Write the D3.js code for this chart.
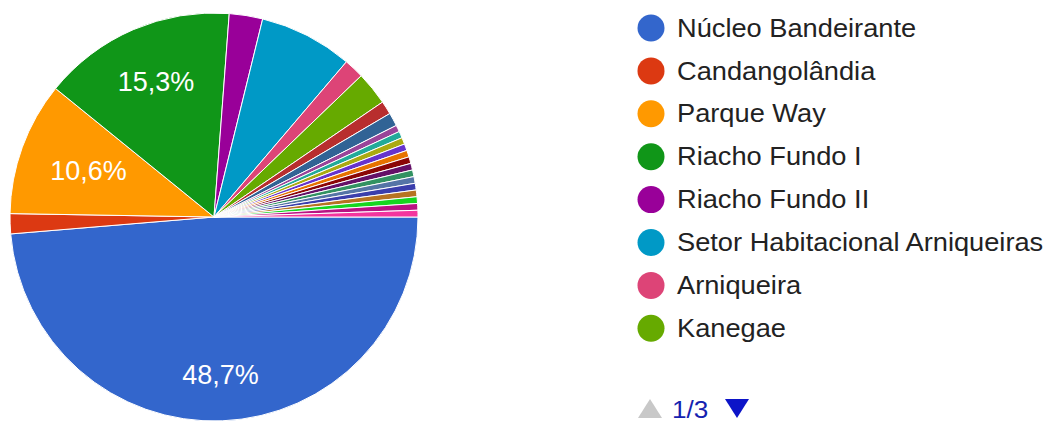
<!DOCTYPE html>
<html>
<head>
<meta charset="utf-8">
<script src="https://cdn.jsdelivr.net/npm/d3@7"></script>
<style>
  html, body { margin: 0; padding: 0; background: #fff; }
  svg { display: block; }
</style>
</head>
<body>
<svg id="chart" width="1049" height="421"></svg>
<script>
// Respostas por região (contagens)
const categories = [
  "Núcleo Bandeirante", "Candangolândia", "Parque Way", "Riacho Fundo I",
  "Riacho Fundo II", "Setor Habitacional Arniqueiras", "Arniqueira", "Kanegae",
  "Categoria 9", "Categoria 10", "Categoria 11", "Categoria 12",
  "Categoria 13", "Categoria 14", "Categoria 15", "Categoria 16",
  "Categoria 17", "Categoria 18", "Categoria 19", "Categoria 20",
  "Categoria 21", "Categoria 22", "Categoria 23", "Categoria 24"
];
const counts = [92, 3, 20, 29, 5, 14, 3, 5, 2, 2, 1, 1, 1, 1, 1, 1, 1, 1, 1, 1, 1, 1, 1, 1];
const palette = [
  "#3366cc", "#dc3912", "#ff9900", "#109618", "#990099", "#0099c6", "#dd4477", "#66aa00",
  "#b82e2e", "#316395", "#994499", "#22aa99", "#aaaa11", "#6633cc", "#e67300", "#8b0707",
  "#651067", "#329262", "#5574a6", "#3b3eac", "#b77322", "#16d620", "#b91383", "#f4359e"
];
const legendPage = { current: 1, total: 3, perPage: 8 };

const FONT = "Arial, 'Liberation Sans', sans-serif";
const svg = d3.select("#chart");
const cx = 214, cy = 217, R = 204;
const total = d3.sum(counts);

const data = categories.map((c, i) => ({ name: c, value: counts[i], color: palette[i] }));

const pie = d3.pie().value(d => d.value).sort(null)
  .startAngle(Math.PI / 2).endAngle(Math.PI / 2 + 2 * Math.PI);
const arcs = pie(data);
const arc = d3.arc().innerRadius(0).outerRadius(R);

const g = svg.append("g").attr("transform", `translate(${cx},${cy})`);
g.selectAll("path.slice").data(arcs).join("path")
  .attr("class", "slice")
  .attr("d", arc)
  .attr("fill", d => d.data.color)
  .attr("stroke", "#fff")
  .attr("stroke-width", 1);

// Percentage labels on the larger slices: the text box is pushed outward
// along the slice bisector until its farthest corner reaches labelReach.
const fmt = v => d3.format(".1f")(v).replace(".", ",") + "%";
const labelReach = R * 0.845;
arcs.filter(d => d.data.value / total >= 0.1).forEach(d => {
  const mid = (d.startAngle + d.endAngle) / 2;
  const ux = Math.sin(mid), uy = -Math.cos(mid);
  const t = g.append("text")
    .attr("font-family", FONT)
    .attr("font-size", 27)
    .attr("fill", "#fff")
    .attr("text-anchor", "middle")
    .attr("dominant-baseline", "central")
    .text(fmt(d.data.value / total * 100));
  const bb = t.node().getBBox();
  const hw = bb.width / 2, hh = bb.height / 2 * 0.55;
  let lo = 0, hi = R;
  for (let k = 0; k < 40; k++) {
    const m = (lo + hi) / 2;
    const x = ux * m, y = uy * m;
    const far = Math.hypot(Math.abs(x) + hw, Math.abs(y) + hh);
    if (far > labelReach) hi = m; else lo = m;
  }
  t.attr("x", ux * lo).attr("y", uy * lo);
});

// Legend (first page)
const lx = 651, ly = 28, step = 42.9;
const pageItems = data.slice(0, legendPage.perPage);
const leg = svg.append("g");
const items = leg.selectAll("g.item").data(pageItems).join("g")
  .attr("class", "item")
  .attr("transform", (d, i) => `translate(${lx},${ly + i * step})`);
items.append("circle").attr("r", 13.5).attr("fill", d => d.color);
items.append("text")
  .attr("transform", "translate(26,0) scale(1.09,1)")
  .attr("dominant-baseline", "central")
  .attr("font-family", FONT)
  .attr("font-size", 25)
  .attr("fill", "#222")
  .text(d => d.name);

// Pager
const py = 409;
leg.append("path")
  .attr("d", `M${638},${py + 9} L${650},${py - 10} L${662},${py + 9} Z`)
  .attr("fill", "#c8c8c8");
leg.append("text")
  .attr("transform", `translate(672,${py}) scale(1.09,1)`)
  .attr("dominant-baseline", "central")
  .attr("font-family", FONT)
  .attr("font-size", 24)
  .attr("fill", "#1522b0")
  .text(`${legendPage.current}/${legendPage.total}`);
leg.append("path")
  .attr("d", `M${725},${py - 10} L${749},${py - 10} L${737},${py + 9} Z`)
  .attr("fill", "#0c14c8");
</script>
</body>
</html>
